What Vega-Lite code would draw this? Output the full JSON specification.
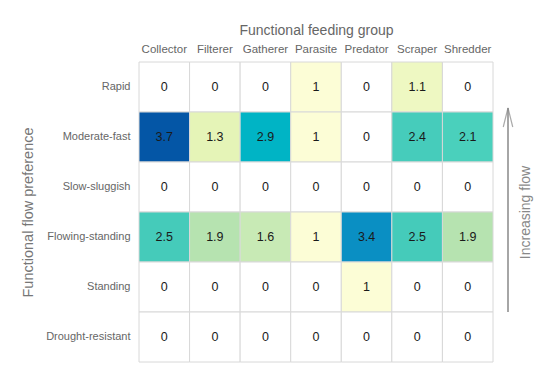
{
  "$schema": "https://vega.github.io/schema/vega-lite/v6.json",
  "padding": {"left": 20, "top": 23, "right": 5, "bottom": 5},
  "background": "white",
  "config": {
    "font": "Liberation Sans",
    "view": {"stroke": null},
    "concat": {"spacing": 4}
  },
  "datasets": {
    "cells": [
      {"flow": "Rapid", "group": "Collector", "v": 0},
      {"flow": "Rapid", "group": "Filterer", "v": 0},
      {"flow": "Rapid", "group": "Gatherer", "v": 0},
      {"flow": "Rapid", "group": "Parasite", "v": 1},
      {"flow": "Rapid", "group": "Predator", "v": 0},
      {"flow": "Rapid", "group": "Scraper", "v": 1.1},
      {"flow": "Rapid", "group": "Shredder", "v": 0},
      {"flow": "Moderate-fast", "group": "Collector", "v": 3.7},
      {"flow": "Moderate-fast", "group": "Filterer", "v": 1.3},
      {"flow": "Moderate-fast", "group": "Gatherer", "v": 2.9},
      {"flow": "Moderate-fast", "group": "Parasite", "v": 1},
      {"flow": "Moderate-fast", "group": "Predator", "v": 0},
      {"flow": "Moderate-fast", "group": "Scraper", "v": 2.4},
      {"flow": "Moderate-fast", "group": "Shredder", "v": 2.1},
      {"flow": "Slow-sluggish", "group": "Collector", "v": 0},
      {"flow": "Slow-sluggish", "group": "Filterer", "v": 0},
      {"flow": "Slow-sluggish", "group": "Gatherer", "v": 0},
      {"flow": "Slow-sluggish", "group": "Parasite", "v": 0},
      {"flow": "Slow-sluggish", "group": "Predator", "v": 0},
      {"flow": "Slow-sluggish", "group": "Scraper", "v": 0},
      {"flow": "Slow-sluggish", "group": "Shredder", "v": 0},
      {"flow": "Flowing-standing", "group": "Collector", "v": 2.5},
      {"flow": "Flowing-standing", "group": "Filterer", "v": 1.9},
      {"flow": "Flowing-standing", "group": "Gatherer", "v": 1.6},
      {"flow": "Flowing-standing", "group": "Parasite", "v": 1},
      {"flow": "Flowing-standing", "group": "Predator", "v": 3.4},
      {"flow": "Flowing-standing", "group": "Scraper", "v": 2.5},
      {"flow": "Flowing-standing", "group": "Shredder", "v": 1.9},
      {"flow": "Standing", "group": "Collector", "v": 0},
      {"flow": "Standing", "group": "Filterer", "v": 0},
      {"flow": "Standing", "group": "Gatherer", "v": 0},
      {"flow": "Standing", "group": "Parasite", "v": 0},
      {"flow": "Standing", "group": "Predator", "v": 1},
      {"flow": "Standing", "group": "Scraper", "v": 0},
      {"flow": "Standing", "group": "Shredder", "v": 0},
      {"flow": "Drought-resistant", "group": "Collector", "v": 0},
      {"flow": "Drought-resistant", "group": "Filterer", "v": 0},
      {"flow": "Drought-resistant", "group": "Gatherer", "v": 0},
      {"flow": "Drought-resistant", "group": "Parasite", "v": 0},
      {"flow": "Drought-resistant", "group": "Predator", "v": 0},
      {"flow": "Drought-resistant", "group": "Scraper", "v": 0},
      {"flow": "Drought-resistant", "group": "Shredder", "v": 0}
    ],
    "arrow": [
      {"y": 1.0, "y2": 5.08}
    ],
    "head": [
      {"y": 4.89}
    ]
  },
  "hconcat": [
    {
      "width": 354,
      "height": 300,
      "data": {"name": "cells"},
      "encoding": {
        "x": {
          "field": "group", "type": "nominal",
          "sort": ["Collector", "Filterer", "Gatherer", "Parasite", "Predator", "Scraper", "Shredder"],
          "axis": {
            "orient": "top", "title": "Functional feeding group", "labelAngle": 0,
            "ticks": false, "domain": false, "labelPadding": 8, "labelFontSize": 11.5,
            "labelColor": "#666", "titleColor": "#666", "titleFontSize": 14,
            "titleFontWeight": "normal", "titlePadding": 6
          }
        },
        "y": {
          "field": "flow", "type": "nominal",
          "sort": ["Rapid", "Moderate-fast", "Slow-sluggish", "Flowing-standing", "Standing", "Drought-resistant"],
          "axis": {
            "title": "Functional flow preference", "ticks": false, "domain": false,
            "labelPadding": 9, "labelFontSize": 11, "labelColor": "#666",
            "titleColor": "#777", "titleFontSize": 14.5, "titleFontWeight": "normal",
            "titlePadding": 10
          }
        }
      },
      "layer": [
        {
          "mark": {"type": "rect", "stroke": "#d8d8d8", "strokeWidth": 1},
          "encoding": {
            "color": {
              "field": "v", "type": "quantitative", "legend": null,
              "scale": {
                "domain": [0, 1, 1.1, 1.3, 1.6, 1.9, 2.1, 2.5, 2.9, 3.4, 3.7],
                "range": ["#ffffff", "#fcfdd6", "#eef8c2", "#e5f4b7", "#c8eab5", "#b6e3b0", "#4ad0bc", "#45cbba", "#00b4c5", "#0a8fc3", "#0456a6"],
                "interpolate": "rgb"
              }
            }
          }
        },
        {
          "mark": {"type": "text", "fontSize": 12.5, "color": "#1a1a1a"},
          "encoding": {"text": {"field": "v", "type": "quantitative"}}
        }
      ]
    },
    {
      "width": 20,
      "height": 300,
      "layer": [
        {
          "data": {"name": "arrow"},
          "mark": {"type": "rule", "color": "#888", "strokeWidth": 1.5},
          "encoding": {
            "x": {"datum": 0, "type": "quantitative", "scale": {"domain": [-1, 1]}, "axis": null},
            "y": {"field": "y", "type": "quantitative", "scale": {"domain": [0, 6]},
                  "axis": {"orient": "right", "title": "Increasing flow", "titleAngle": 270,
                           "labels": false, "ticks": false, "domain": false, "grid": false,
                           "titleColor": "#888", "titleFontSize": 14, "titleFontWeight": "normal",
                           "titlePadding": 14}},
            "y2": {"field": "y2"}
          }
        },
        {
          "data": {"name": "head"},
          "mark": {"type": "point", "shape": "M-0.5,1 L0,-1 L0.5,1", "filled": false, "size": 361, "stroke": "#888", "strokeWidth": 1.2},
          "encoding": {
            "x": {"datum": 0, "type": "quantitative"},
            "y": {"field": "y", "type": "quantitative"}
          }
        }
      ]
    }
  ]
}
